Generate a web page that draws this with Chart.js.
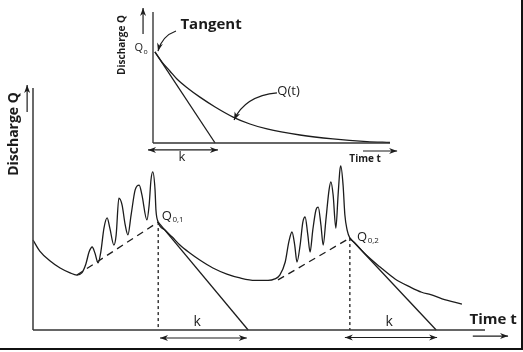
<!DOCTYPE html>
<html>
<head>
<meta charset="utf-8">
<script src="https://cdn.jsdelivr.net/npm/chart.js"></script>
<style>
html, body { margin: 0; padding: 0; background: #fff; }
#frame { position: relative; width: 521px; height: 348px; border-right: 2px solid #111; border-bottom: 2px solid #111; overflow: hidden; background: #fff; }
#main { position: absolute; left: 0; top: 0; }
#inset { position: absolute; left: 100px; top: 0; }
</style>
</head>
<body>
<div id="frame">
  <canvas id="main" width="521" height="348"></canvas>
  <canvas id="inset" width="300" height="175"></canvas>
</div>
<script>
// main hydrograph, time and discharge in schematic units (0-100 on both axes)
const hydro_t = [0, 1.5, 3.8, 6.0, 8.2, 9.7, 10.8, 11.7, 12.4, 13.1, 13.7, 14.4, 15.0, 15.7, 16.4, 17.0, 17.9, 18.4,
  19.0, 19.7, 20.4, 21.0, 21.7, 22.6, 23.5, 24.1, 25.2, 25.7, 26.1, 26.5, 27.0, 27.2, 27.7, 29.2, 30.8, 32.5,
  34.7, 36.9, 39.8, 42.9, 45.8, 49.1, 52.0, 53.5, 54.6, 55.8, 56.6, 57.3, 57.9, 58.4, 59.1, 59.7, 60.2, 60.8,
  61.3, 61.9, 62.6, 63.1, 63.7, 64.2, 64.8, 65.5, 65.9, 66.4, 67.0, 67.5, 67.9, 68.1, 68.6, 69.0, 69.5, 70.1,
  71.2, 73.5, 76.8, 80.1, 83.4, 86.0, 88.0, 90.5, 94.9];
const hydro_q = [37.2, 32.6, 28.5, 25.6, 23.6, 22.7, 23.6, 27.3, 32.2, 34.3, 31.8, 27.7, 32.2, 42.1, 46.3, 42.1, 35.1, 39.3,
  54.5, 51.7, 43.4, 39.3, 47.5, 57.9, 59.9, 55.8, 45.5, 51.7, 62.0, 65.3, 57.9, 49.6, 44.6, 41.3, 38.4, 35.1,
  31.8, 28.9, 25.6, 23.1, 21.5, 20.5, 20.5, 21.1, 22.7, 28.1, 36.4, 40.5, 35.1, 28.1, 35.1, 44.6, 46.7, 39.3,
  32.2, 41.3, 49.6, 50.8, 43.4, 35.1, 45.5, 57.9, 61.2, 55.8, 42.1, 55.8, 66.1, 67.8, 59.9, 47.5, 41.3, 38.0,
  36.0, 31.4, 26.0, 21.1, 17.8, 15.6, 14.6, 12.9, 10.7];

// baseflow separation (dashed) and recession tangents
const base1_t = [9.7, 27.7];
const base1_q = [22.7, 44.6];
const base2_t = [54.2, 70.1];
const base2_q = [20.7, 38.0];
const tangent1_t = [27.7, 47.6];
const tangent1_q = [44.6, 0];
const tangent2_t = [70.1, 89.2];
const tangent2_q = [38.0, 0];
const drop1_t = [27.7, 27.7];
const drop1_q = [44.6, 0];
const drop2_t = [70.1, 70.1];
const drop2_q = [38.0, 0];

// inset: single recession curve Q(t) and its tangent at Q0
const inset_t = [0.8, 3.8, 7.2, 10.1, 14.8, 19.8, 26.2, 33.8, 40.9, 48.1, 62.0, 75.9, 90.3, 100];
const inset_q = [69.5, 61.8, 54.8, 48.8, 41.6, 35.0, 27.5, 19.8, 14.5, 10.7, 6.1, 3.1, 1.1, 0.4];
const inset_tan_t = [0.8, 26.2];
const inset_tan_q = [69.5, 0];

const axis_x_t = [0, 100];
const axis_x_q = [0, 0];
const axis_y_t = [0, 0];
const axis_y_q = [0, 100];

const ink = "#1c1c1c";
const face = "'Open Sans', 'DejaVu Sans', sans-serif";

function pts(xs, ys) {
  return xs.map((x, i) => ({x: x, y: ys[i]}));
}

function line_set(xs, ys, extra) {
  return Object.assign({
    data: pts(xs, ys),
    showLine: true,
    pointRadius: 0,
    borderColor: ink,
    borderWidth: 1.3,
    fill: false,
    clip: false
  }, extra || {});
}

function head(ctx, x1, y1, x2, y2) {
  const ang = Math.atan2(y2 - y1, x2 - x1);
  const len = 8, w = 3;
  const c = Math.cos(ang), s = Math.sin(ang);
  ctx.beginPath();
  ctx.moveTo(x2, y2);
  ctx.lineTo(x2 - len * c + w * s, y2 - len * s - w * c);
  ctx.lineTo(x2 - len * c * 0.7, y2 - len * s * 0.7);
  ctx.lineTo(x2 - len * c - w * s, y2 - len * s + w * c);
  ctx.closePath();
  ctx.fill();
}

// draws labels and arrows in data coordinates, through the chart's scales
const sketch_plugin = {
  id: "sketch",
  afterDraw(chart, args, opts) {
    const ctx = chart.ctx;
    const sx = chart.scales.x, sy = chart.scales.y;
    const px = v => sx.getPixelForValue(v);
    const py = v => sy.getPixelForValue(v);
    ctx.save();
    ctx.strokeStyle = ink;
    ctx.fillStyle = ink;
    ctx.lineWidth = 1.2;

    (opts.arrows || []).forEach(a => {
      const x1 = px(a.from[0]), y1 = py(a.from[1]);
      const x2 = px(a.to[0]), y2 = py(a.to[1]);
      ctx.beginPath();
      ctx.moveTo(x1, y1);
      ctx.lineTo(x2, y2);
      ctx.stroke();
      head(ctx, x1, y1, x2, y2);
      if (a.both) head(ctx, x2, y2, x1, y1);
    });

    (opts.curves || []).forEach(a => {
      const x1 = px(a.from[0]), y1 = py(a.from[1]);
      const cx = px(a.ctrl[0]), cy = py(a.ctrl[1]);
      const x2 = px(a.to[0]), y2 = py(a.to[1]);
      ctx.beginPath();
      ctx.moveTo(x1, y1);
      ctx.quadraticCurveTo(cx, cy, x2, y2);
      ctx.stroke();
      head(ctx, cx, cy, x2, y2);
    });

    (opts.texts || []).forEach(t => {
      const x = px(t.at[0]), y = py(t.at[1]);
      ctx.font = t.font;
      ctx.textBaseline = "middle";
      if (t.rotate) {
        ctx.save();
        ctx.translate(x, y);
        ctx.rotate(-Math.PI / 2);
        ctx.textAlign = "center";
        ctx.fillText(t.text, 0, 0);
        ctx.restore();
        return;
      }
      ctx.textAlign = t.sub ? "left" : "center";
      ctx.fillText(t.text, x, y);
      if (t.sub) {
        const w = ctx.measureText(t.text).width;
        ctx.font = t.sub_font;
        ctx.fillText(t.sub, x + w + 0.5, y + 4);
      }
    });
    ctx.restore();
  }
};

function base_options(padding, sketch) {
  return {
    responsive: false,
    animation: false,
    devicePixelRatio: 1,
    layout: {padding: padding},
    scales: {
      x: {type: "linear", display: false, min: 0, max: 100},
      y: {type: "linear", display: false, min: 0, max: 100}
    },
    plugins: {
      legend: {display: false},
      tooltip: {enabled: false},
      sketch: sketch
    }
  };
}

const main_chart = new Chart(document.getElementById("main").getContext("2d"), {
  type: "scatter",
  data: {
    datasets: [
      line_set(axis_x_t, axis_x_q, {borderWidth: 1.6, borderColor: "#333"}),
      line_set(axis_y_t, axis_y_q, {borderWidth: 1.6, borderColor: "#444"}),
      line_set(base1_t, base1_q, {borderDash: [7, 5]}),
      line_set(base2_t, base2_q, {borderDash: [7, 5]}),
      line_set(drop1_t, drop1_q, {borderDash: [3, 3]}),
      line_set(drop2_t, drop2_q, {borderDash: [3, 3]}),
      line_set(tangent1_t, tangent1_q),
      line_set(tangent2_t, tangent2_q),
      line_set(hydro_t, hydro_q, {cubicInterpolationMode: "monotone"})
    ]
  },
  options: base_options({left: 33, right: 36, top: 88, bottom: 18}, {
    arrows: [
      {from: [-1.3, 90.1], to: [-1.3, 101.2]},
      {from: [97.3, -2.5], to: [105.1, -2.5]},
      {from: [28.1, -3.3], to: [47.3, -3.3], both: true},
      {from: [69.0, -3.1], to: [89.4, -3.1], both: true}
    ],
    texts: [
      {text: "Discharge Q", at: [-4.2, 81.0], font: "bold 14px " + face, rotate: true},
      {text: "Time t", at: [101.8, 4.3], font: "bold 15px " + face},
      {text: "k", at: [36.3, 3.3], font: "14px " + face},
      {text: "k", at: [78.8, 3.3], font: "14px " + face},
      {text: "Q", sub: "0,1", at: [28.5, 47.1], font: "13px " + face, sub_font: "8px " + face},
      {text: "Q", sub: "0,2", at: [71.7, 38.4], font: "13px " + face, sub_font: "8px " + face}
    ]
  }),
  plugins: [sketch_plugin]
});

const inset_chart = new Chart(document.getElementById("inset").getContext("2d"), {
  type: "scatter",
  data: {
    datasets: [
      line_set(axis_x_t, axis_x_q, {borderWidth: 1.5, borderColor: "#333"}),
      line_set(axis_y_t, axis_y_q, {borderWidth: 1.5, borderColor: "#444"}),
      line_set(inset_tan_t, inset_tan_q),
      line_set(inset_t, inset_q, {cubicInterpolationMode: "monotone"})
    ]
  },
  options: base_options({left: 53, right: 10, top: 12, bottom: 32}, {
    arrows: [
      {from: [-4.2, 83.2], to: [-4.2, 103.1]},
      {from: [88.6, -6.1], to: [103.0, -6.1]},
      {from: [-2.1, -5.3], to: [27.4, -5.3], both: true}
    ],
    curves: [
      {from: [9.7, 85.5], ctrl: [3.8, 81.7], to: [2.1, 70.2]},
      {from: [52.3, 38.2], ctrl: [38.8, 35.9], to: [34.2, 17.6]}
    ],
    texts: [
      {text: "Discharge Q", at: [-13.1, 74.8], font: "bold 10px " + face, rotate: true},
      {text: "Q", sub: "o", at: [-7.8, 72.5], font: "11px " + face, sub_font: "7px " + face},
      {text: "Tangent", at: [24.5, 90.1], font: "bold 15px " + face},
      {text: "Q(t)", at: [57.2, 39.7], font: "13px " + face},
      {text: "k", at: [12.2, -10.7], font: "13px " + face},
      {text: "Time t", at: [89.5, -12.2], font: "bold 10px " + face}
    ]
  }),
  plugins: [sketch_plugin]
});
</script>
</body>
</html>
